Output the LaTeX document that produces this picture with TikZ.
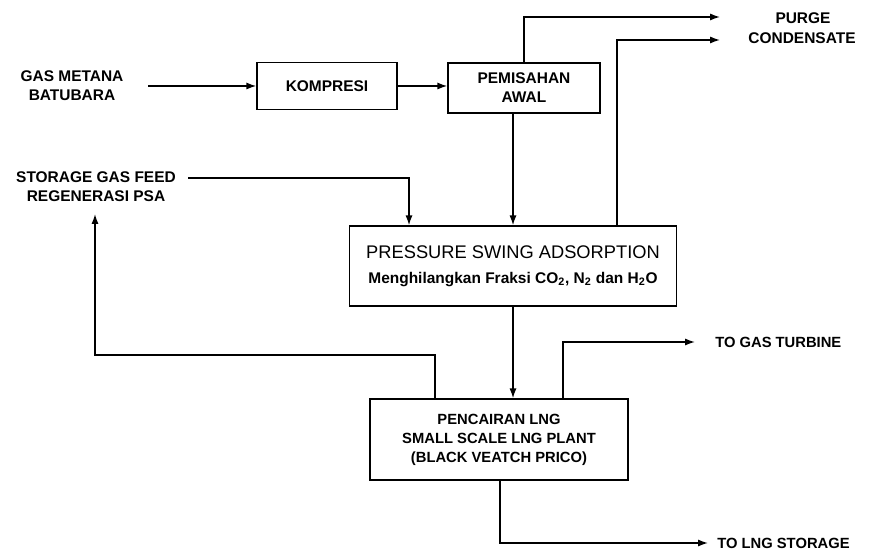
\documentclass[tikz,border=0pt]{standalone}
\usepackage{fontspec}
\setmainfont{Liberation Sans}
\usetikzlibrary{arrows.meta}

\tikzset{
  unit/.style={draw, line width=1pt, rectangle, align=center, inner sep=2pt,
    font=\fontsize{11}{13.5}\selectfont\bfseries},
  streamtxt/.style={align=center, inner sep=0pt,
    font=\fontsize{11}{13.5}\selectfont\bfseries},
  flow/.style={line width=1pt, -{Latex[length=7pt,width=5pt]}}
}

\begin{document}
\begin{tikzpicture}[x=0.025cm, y=-0.025cm]
    \useasboundingbox (0,0) rectangle (894,550);

    % Units
    \node[unit, minimum width=3.5cm, minimum height=1.175cm] (kompresi) at (327,86) {KOMPRESI};
    \node[unit, minimum width=3.8cm, minimum height=1.25cm] (pemisahan) at (524,88) {PEMISAHAN\\AWAL};
    \node[unit, minimum width=8.175cm, minimum height=2cm,
          font=\fontsize{11}{17.5}\selectfont] (psa) at (513,266)
        {{\fontsize{13}{16}\selectfont PRESSURE SWING ADSORPTION}\\
         {\bfseries Menghilangkan Fraksi CO\textsubscript{2}, N\textsubscript{2} dan H\textsubscript{2}O}};
    \node[unit, minimum width=6.45cm, minimum height=2.025cm,
          font=\fontsize{10.5}{13.5}\selectfont\bfseries] (lng) at (499,439.5)
        {PENCAIRAN LNG\\SMALL SCALE LNG PLANT\\(BLACK VEATCH PRICO)};

    % Stream labels
    \node[streamtxt] (gas) at (72,86) {GAS METANA\\BATUBARA};
    \node[streamtxt] (regen) at (96,186.5) {STORAGE GAS FEED\\REGENERASI PSA};
    \node[streamtxt] (purge) at (803,18) {PURGE};
    \node[streamtxt] (condensate) at (802,38) {CONDENSATE};
    \node[streamtxt, anchor=west, font=\fontsize{10.5}{13}\selectfont\bfseries] (turbine) at (715,342) {TO GAS TURBINE};
    \node[streamtxt, anchor=west, font=\fontsize{10.5}{13}\selectfont\bfseries] (storage) at (717,543) {TO LNG STORAGE};

    % Free ends
    \coordinate (gasstart) at (148,86);
    \coordinate (feedstart) at (188,178);
    \coordinate (purgeend) at (720,17);
    \coordinate (condend) at (720,40);
    \coordinate (regenend) at (95,214);
    \coordinate (turbend) at (695,342);
    \coordinate (storend) at (708,543);

    % Main line
    \draw[flow] (gasstart) -- (kompresi.west);
    \draw[flow] (kompresi.east) -- (kompresi.east -| pemisahan.west);
    \draw[flow] (pemisahan.south -| psa.north) -- (psa.north);
    \draw[flow] (psa.south) -- (psa.south |- lng.north);

    % Side streams
    \draw[flow] (pemisahan.north) |- (purgeend);
    \draw[flow] (psa.north -| 617,0) |- (condend);
    \draw[flow] (feedstart) -| (psa.north -| 409,0);
    \draw[flow] (lng.north -| 435,0) -- (435,355) -| (regenend);
    \draw[flow] (lng.north -| 563,0) |- (turbend);
    \draw[flow] (lng.south -| 500,0) |- (storend);
\end{tikzpicture}
\end{document}
